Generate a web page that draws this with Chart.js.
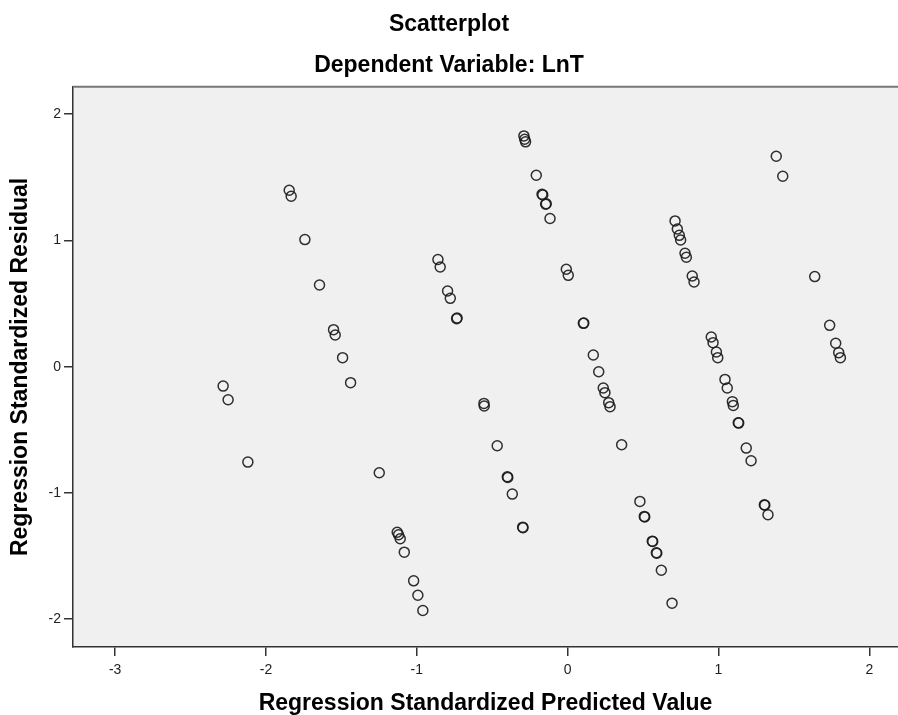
<!DOCTYPE html>
<html>
<head>
<meta charset="utf-8">
<script src="https://cdn.jsdelivr.net/npm/chart.js@4.4.0/dist/chart.umd.min.js"></script>
<style>
  html, body { margin: 0; padding: 0; background: #fff; }
  #wrap { width: 898px; height: 715px; }
</style>
</head>
<body>
<div id="wrap"><canvas id="scatter" width="898" height="715"></canvas></div>
<script>
// predicted (x) and residual (y), pairwise
var predicted = [
  -2.284, -2.251, -2.120,
  -1.846, -1.833, -1.742, -1.645, -1.552, -1.541, -1.492, -1.439,
  -1.249, -1.130, -1.121, -1.110, -1.083, -1.021, -0.993, -0.960,
  -0.860, -0.845, -0.796, -0.778, -0.736, -0.733,
  -0.555, -0.553, -0.467, -0.400, -0.397, -0.367, -0.298, -0.296,
  -0.290, -0.285, -0.279, -0.208, -0.170, -0.165, -0.146, -0.142, -0.117,
  -0.009, 0.004, 0.104, 0.107, 0.170, 0.206, 0.236, 0.247, 0.272, 0.281, 0.358,
  0.479, 0.508, 0.511, 0.561, 0.564, 0.588, 0.591, 0.621, 0.692,
  0.712, 0.727, 0.740, 0.749, 0.778, 0.787, 0.826, 0.838,
  0.952, 0.964, 0.986, 0.995, 1.043, 1.058, 1.092, 1.098, 1.131, 1.134, 1.184, 1.216,
  1.304, 1.307, 1.328,
  1.383, 1.426, 1.638, 1.737, 1.777, 1.797, 1.808
];
var residual = [
  -0.154, -0.262, -0.756,
  1.397, 1.349, 1.006, 0.647, 0.293, 0.251, 0.071, -0.127,
  -0.840, -1.311, -1.331, -1.363, -1.469, -1.696, -1.810, -1.931,
  0.848, 0.789, 0.599, 0.541, 0.380, 0.385,
  -0.291, -0.312, -0.626, -0.872, -0.877, -1.009, -1.271, -1.275,
  1.827, 1.801, 1.780, 1.516, 1.365, 1.360, 1.286, 1.290, 1.173,
  0.771, 0.723, 0.343, 0.345, 0.092, -0.040, -0.169, -0.206, -0.285, -0.317, -0.618,
  -1.067, -1.186, -1.190, -1.382, -1.385, -1.474, -1.478, -1.612, -1.873,
  1.154, 1.090, 1.040, 1.003, 0.898, 0.866, 0.718, 0.670,
  0.235, 0.190, 0.116, 0.071, -0.101, -0.169, -0.277, -0.307, -0.444, -0.447, -0.645, -0.745,
  -1.094, -1.097, -1.173,
  1.666, 1.508, 0.713, 0.327, 0.185, 0.111, 0.071
];
var xRange = [-3.279, 2.19];
var yRange = [-2.22, 2.216];

var points = predicted.map(function(v, i) { return {x: v, y: residual[i]}; });

// grey plot panel + top frame line
var panel = {
  id: 'panel',
  beforeDraw: function(chart) {
    var a = chart.chartArea, ctx = chart.ctx;
    ctx.save();
    ctx.fillStyle = '#f0f0f0';
    ctx.fillRect(a.left, a.top, a.right - a.left, a.bottom - a.top);
    ctx.restore();
  },
  afterDraw: function(chart) {
    var a = chart.chartArea, ctx = chart.ctx;
    ctx.save();
    ctx.strokeStyle = '#777';
    ctx.lineWidth = 2;
    ctx.beginPath();
    ctx.moveTo(a.left, a.top);
    ctx.lineTo(a.right, a.top);
    ctx.stroke();
    ctx.restore();
  }
};

var titleFont = {family: 'Liberation Sans', size: 23, weight: 'bold'};
var tickFont = {family: 'Liberation Sans', size: 14};

new Chart(document.getElementById('scatter'), {
  type: 'scatter',
  data: {
    datasets: [{
      data: points,
      pointStyle: 'circle',
      pointRadius: 5,
      pointBorderWidth: 1.5,
      borderColor: 'rgba(25,25,25,0.9)',
      backgroundColor: 'rgba(0,0,0,0)'
    }]
  },
  options: {
    responsive: false,
    animation: false,
    events: [],
    layout: {autoPadding: false, padding: 0},
    plugins: {
      legend: {display: false},
      tooltip: {enabled: false},
      title: {
        display: true,
        text: 'Scatterplot',
        color: '#000',
        font: titleFont,
        padding: {top: 11, bottom: 13}
      },
      subtitle: {
        display: true,
        text: 'Dependent Variable: LnT',
        color: '#000',
        font: titleFont,
        padding: {top: 0, bottom: 7.6}
      }
    },
    scales: {
      x: {
        type: 'linear',
        min: xRange[0],
        max: xRange[1],
        grid: {drawOnChartArea: false, drawTicks: true, tickLength: 9, color: '#333', lineWidth: 1.5},
        border: {display: true, color: '#333', width: 1.5},
        ticks: {stepSize: 1, includeBounds: false, padding: 6, color: '#222', font: tickFont},
        title: {display: true, text: 'Regression Standardized Predicted Value', color: '#000',
                font: titleFont, padding: {top: 4.6, bottom: -2}}
      },
      y: {
        type: 'linear',
        min: yRange[0],
        max: yRange[1],
        grid: {drawOnChartArea: false, drawTicks: true, tickLength: 9, color: '#333', lineWidth: 1.5},
        border: {display: true, color: '#333', width: 1.5},
        ticks: {stepSize: 1, includeBounds: false, padding: 3, color: '#222', font: tickFont},
        title: {display: true, text: 'Regression Standardized Residual', color: '#000',
                font: titleFont, padding: {top: 7, bottom: 11}}
      }
    }
  },
  plugins: [panel]
});
</script>
</body>
</html>
